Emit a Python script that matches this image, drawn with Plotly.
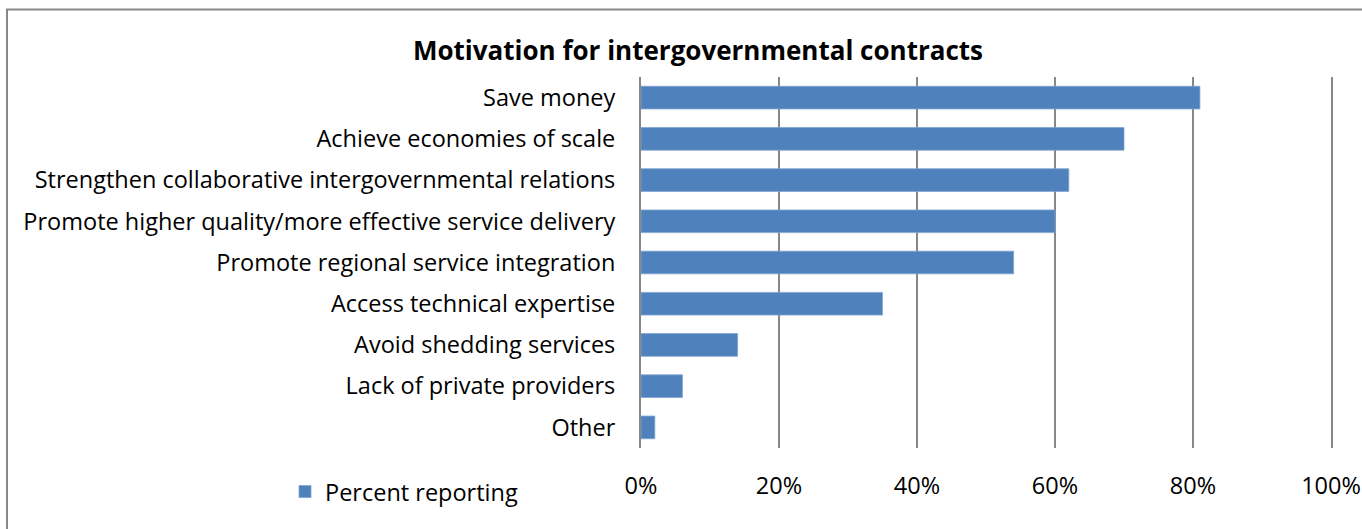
import plotly.graph_objects as go

# Survey responses: share of respondents citing each motivation
categories = [
    "Save money",
    "Achieve economies of scale",
    "Strengthen collaborative intergovernmental relations",
    "Promote higher quality/more effective service delivery",
    "Promote regional service integration",
    "Access technical expertise",
    "Avoid shedding services",
    "Lack of private providers",
    "Other",
]
percent_reporting = [81, 70, 62, 60, 54, 35, 14, 6, 2]
x_ticks = [0, 20, 40, 60, 80, 100]
x_tick_labels = ["0%", "20%", "40%", "60%", "80%", "100%"]

FONT = "Open Sans"
LABEL_SIZE = 23.5
BAR_BLUE = "#4F81BD"
GRID_GREY = "#878787"

fig = go.Figure(
    go.Bar(
        x=percent_reporting,
        y=categories,
        orientation="h",
        name="Percent reporting",
        width=0.55,
        marker=dict(color=BAR_BLUE, line=dict(color="#7fa3d1", width=0.8)),
    )
)

fig.update_layout(
    width=1362,
    height=529,
    margin=dict(l=641, r=31, t=77, b=81),
    paper_bgcolor="white",
    plot_bgcolor="white",
    font=dict(family=FONT, size=LABEL_SIZE, color="#000000"),
    title=dict(
        text="<b>Motivation for intergovernmental contracts</b>",
        font=dict(family=FONT, size=26, color="#000000"),
        x=698 / 1362,
        xanchor="center",
        xref="container",
        y=1 - 51 / 529,
        yanchor="middle",
    ),
    xaxis=dict(
        range=[0, 100],
        tickvals=x_ticks,
        ticktext=x_tick_labels,
        showgrid=True,
        gridcolor=GRID_GREY,
        gridwidth=2,
        zeroline=False,
        showline=False,
        ticks="",
        ticklabelstandoff=21,
        tickfont=dict(family=FONT, size=LABEL_SIZE),
        automargin=False,
        fixedrange=True,
    ),
    yaxis=dict(
        categoryorder="array",
        categoryarray=categories[::-1],
        showgrid=False,
        zeroline=False,
        # left/right axis lines double as the 0% and 100% gridlines
        showline=True,
        mirror=True,
        linecolor=GRID_GREY,
        linewidth=2,
        ticks="",
        ticklabelstandoff=19,
        tickfont=dict(family=FONT, size=LABEL_SIZE),
        automargin=False,
        fixedrange=True,
    ),
    showlegend=True,
    legend=dict(
        x=(285 - 641) / 690,
        xanchor="left",
        y=-0.118,
        yanchor="middle",
        orientation="h",
        font=dict(family=FONT, size=LABEL_SIZE),
        bgcolor="rgba(0,0,0,0)",
    ),
    bargap=0.45,
)

# Outer chart frame (extends past the right and bottom edges of the page)
fig.add_shape(
    type="rect",
    xref="paper", yref="paper",
    xsizemode="pixel", ysizemode="pixel",
    xanchor=0, yanchor=0,
    x0=7 - 641, x1=1375 - 641,
    y0=448 - 545, y1=448 - 9.5,
    line=dict(color=GRID_GREY, width=2),
    fillcolor="rgba(0,0,0,0)",
    layer="below",
)

fig.write_html("out.html")
